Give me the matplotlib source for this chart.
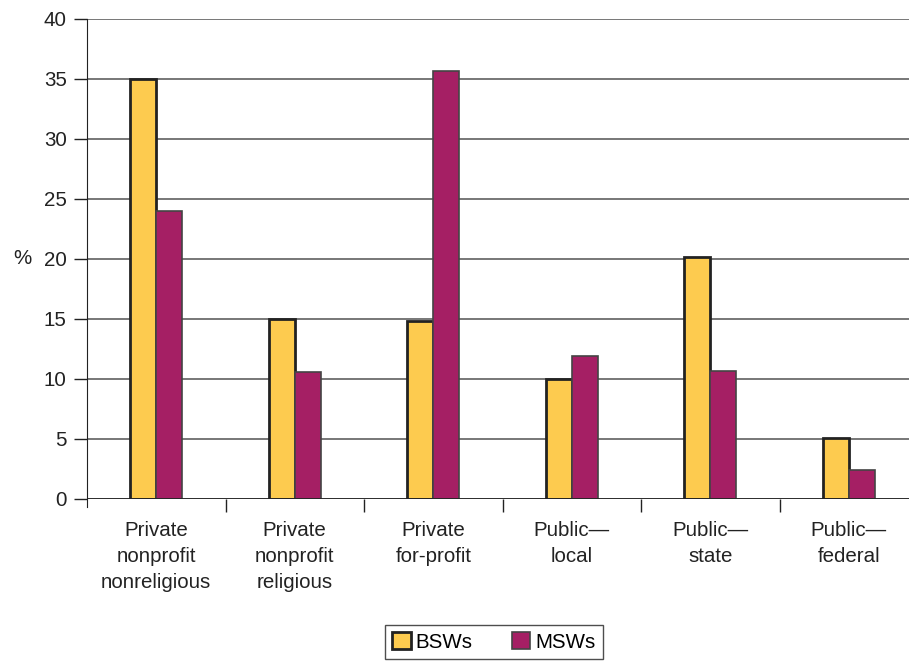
import matplotlib
matplotlib.use("Agg")
import matplotlib.pyplot as plt
from matplotlib.patches import Patch
import numpy as np

plt.rcParams['font.family'] = ['Liberation Sans', 'DejaVu Sans']

categories = ["Private\nnonprofit\nnonreligious", "Private\nnonprofit\nreligious",
              "Private\nfor-profit", "Public\u2014\nlocal", "Public\u2014\nstate",
              "Public\u2014\nfederal"]
bsw = [35.0, 15.0, 14.8, 10.0, 20.2, 5.1]
msw = [24.0, 10.6, 35.7, 11.9, 10.7, 2.4]
yticks = [0, 5, 10, 15, 20, 25, 30, 35, 40]

yellow = "#FDCB4F"
magenta = "#A51F64"
ink = "#222222"

W, H = 909, 662
fig = plt.figure(figsize=(W / 100, H / 100), dpi=100)
left, right, top, bottom = 87, 909, 19, 499
ax = fig.add_axes([left / W, 1 - bottom / H, (right - left) / W, (bottom - top) / H])

cat_px = 138.5
x = np.arange(len(categories))
bw = 26 / cat_px

ax.bar(x - bw / 2, bsw, bw, color=yellow, edgecolor=ink, linewidth=2, zorder=3)
ax.bar(x + bw / 2, msw, bw, color=magenta, edgecolor="#444444", linewidth=1.2, zorder=3)

ax.set_xlim(-0.5, -0.5 + (right - left) / cat_px)
ax.set_ylim(0, 40)

fs = 14.8
ax.set_yticks(yticks)
ax.tick_params(axis='y', direction='out', length=9.5, width=1, labelsize=fs, pad=5, colors=ink)
ax.yaxis.grid(True, color='#606060', linewidth=1.2, zorder=0)

ax.set_xticks(x)
ax.set_xticklabels(categories, fontsize=fs, linespacing=1.47, color=ink)
ax.tick_params(axis='x', which='major', length=0, pad=16)
ax.set_xticks(np.arange(0.5, len(categories) - 0.5, 1), minor=True)
ax.tick_params(axis='x', which='minor', direction='out', length=9.5, width=1, color=ink)

for s in ['top', 'right', 'bottom']:
    ax.spines[s].set_visible(False)
ax.spines['left'].set_bounds(-0.7, 40)
ax.spines['left'].set_color(ink)
ax.axhline(0, color=ink, linewidth=1.2, zorder=4)

ax.text(13 / W, 1 - 259 / H, "%", transform=fig.transFigure, fontsize=fs,
        ha='left', va='center', color=ink)

handles = [Patch(facecolor=yellow, edgecolor=ink, linewidth=2, label='BSWs'),
           Patch(facecolor=magenta, edgecolor='#444444', linewidth=1.2, label='MSWs')]
fig.legend(handles=handles, loc='center', bbox_to_anchor=(494 / W, 1 - 642 / H), ncol=2,
           frameon=True, fancybox=False, edgecolor=ink, fontsize=fs,
           handlelength=0.9, handleheight=0.9, handletextpad=0.25, columnspacing=1.9,
           borderpad=0.35)

fig.savefig("out.png", dpi=100)
